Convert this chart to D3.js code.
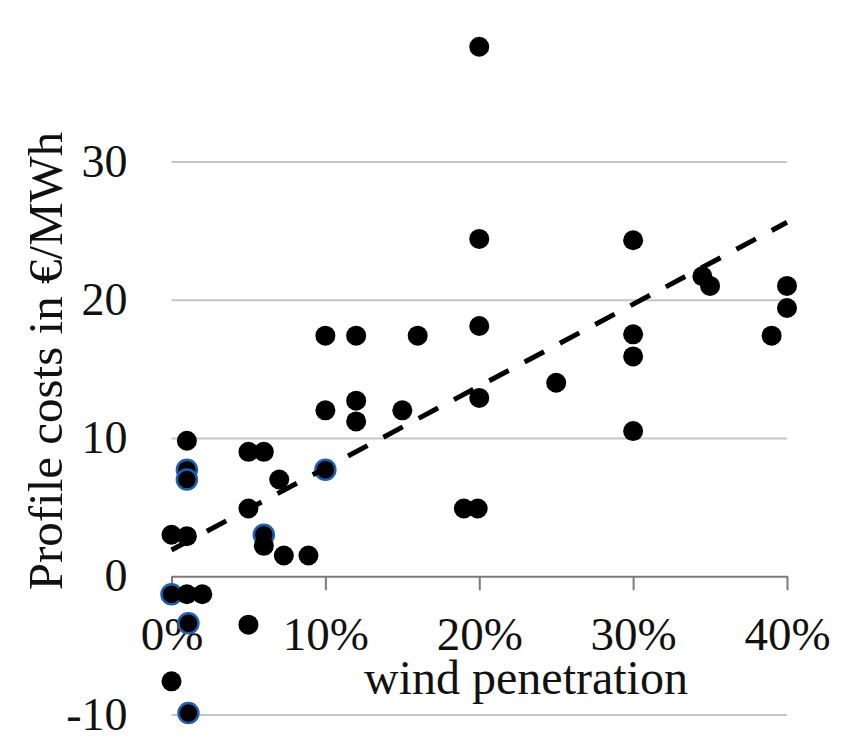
<!DOCTYPE html>
<html>
<head>
<meta charset="utf-8">
<script src="https://cdn.jsdelivr.net/npm/d3@7"></script>
<style>
  body { margin: 0; background: #fff; }
  text { font-family: "Liberation Serif", "Times New Roman", serif; fill: #111; }
</style>
</head>
<body>
<div id="vis1"></div>
<script>
// black dots: wind penetration (%) and profile costs (EUR/MWh)
var penetration = [0, 1, 1, 5, 6, 7, 5, 6, 7.3, 8.9, 1, 2, 5, 0,
  10, 12, 16, 20, 10, 12, 12, 15, 20, 19, 19.9, 20, 20,
  30, 30, 30, 25, 34.5, 35, 40, 40, 39, 30];
var costs = [3.0, 2.9, 9.8, 9.0, 9.0, 7.0, 4.9, 2.2, 1.5, 1.5, -1.3, -1.3, -3.5, -7.6,
  17.4, 17.4, 17.4, 18.1, 12.0, 12.7, 11.2, 12.0, 12.9, 4.9, 4.9, 38.3, 24.4,
  24.3, 17.5, 15.9, 14.0, 21.7, 21.0, 21.0, 19.4, 17.4, 10.5];

// dots with a blue edge
var bluePenetration = [0, 1.1, 1.1, 1, 1, 6, 10];
var blueCosts = [-1.3, -3.4, -9.9, 7.7, 7.0, 3.0, 7.7];

// dashed linear trend
var trendX = [0, 40];
var trendY = [1.9, 25.6];

var xTicks = [0, 10, 20, 30, 40];
var yTicks = [-10, 0, 10, 20, 30];

var W = 845, H = 738;

var svg = d3.select("#vis1")
  .append("svg")
    .attr("width", W)
    .attr("height", H)
    .style("background", "#fff");

var x = d3.scaleLinear()
  .domain([0, 40])
  .range([171.5, 787]);

var y = d3.scaleLinear()
  .domain([-10, 30])
  .range([714.5, 161.5]);

// gridlines + y labels
var gy = svg.append("g")
  .attr("transform", "translate(" + x(0) + ",0)")
  .call(d3.axisLeft(y)
    .tickValues(yTicks)
    .tickSize(-(x(40) - x(0)))
    .tickPadding(44)
    .tickFormat(function(d){ return String(d); }));
gy.select(".domain").remove();
gy.selectAll(".tick line")
  .attr("stroke", "#c6c6c6")
  .attr("stroke-width", 2)
  .attr("opacity", function(d){ return d === 0 ? 0 : 1; });
gy.selectAll(".tick text")
  .style("font-size", "46px")
  .style("font-family", "'Liberation Serif', 'Times New Roman', serif")
  .attr("fill", "#111");

// x axis sitting on zero
var gx = svg.append("g")
  .attr("transform", "translate(0," + y(0) + ")")
  .call(d3.axisBottom(x)
    .tickValues(xTicks)
    .tickSize(14)
    .tickSizeOuter(0)
    .tickPadding(26)
    .tickFormat(function(d){ return d + "%"; }));
gx.select(".domain").attr("stroke", "#7a7a7a").attr("stroke-width", 2);
gx.selectAll(".tick line").attr("stroke", "#7a7a7a").attr("stroke-width", 2);
gx.selectAll(".tick text")
  .style("font-size", "47px")
  .style("font-family", "'Liberation Serif', 'Times New Roman', serif")
  .attr("fill", "#111");

// blue edged dots
svg.selectAll("circle.blue")
  .data(d3.range(bluePenetration.length))
  .enter()
  .append("circle")
    .attr("class", "blue")
    .attr("cx", function(i){ return x(bluePenetration[i]); })
    .attr("cy", function(i){ return y(blueCosts[i]); })
    .attr("r", 10)
    .attr("fill", "#000")
    .attr("stroke", "#1f5fae")
    .attr("stroke-width", 2.5);

// black dots
svg.selectAll("circle.pt")
  .data(d3.range(penetration.length))
  .enter()
  .append("circle")
    .attr("class", "pt")
    .attr("cx", function(i){ return x(penetration[i]); })
    .attr("cy", function(i){ return y(costs[i]); })
    .attr("r", 10)
    .attr("fill", "#000");

// trend line
svg.append("path")
  .datum(d3.range(trendX.length))
  .attr("fill", "none")
  .attr("stroke", "#000")
  .attr("stroke-width", 5)
  .attr("stroke-dasharray", "22,18")
  .attr("d", d3.line()
    .x(function(i){ return x(trendX[i]); })
    .y(function(i){ return y(trendY[i]); }));

svg.append("text")
  .text("wind penetration")
  .attr("text-anchor", "middle")
  .attr("x", 526)
  .attr("y", 694)
  .style("font-size", "48px");

svg.append("text")
  .text("Profile costs in €/MWh")
  .attr("text-anchor", "middle")
  .attr("transform", "translate(62,361) rotate(-90)")
  .style("font-size", "49px");
</script>
</body>
</html>
